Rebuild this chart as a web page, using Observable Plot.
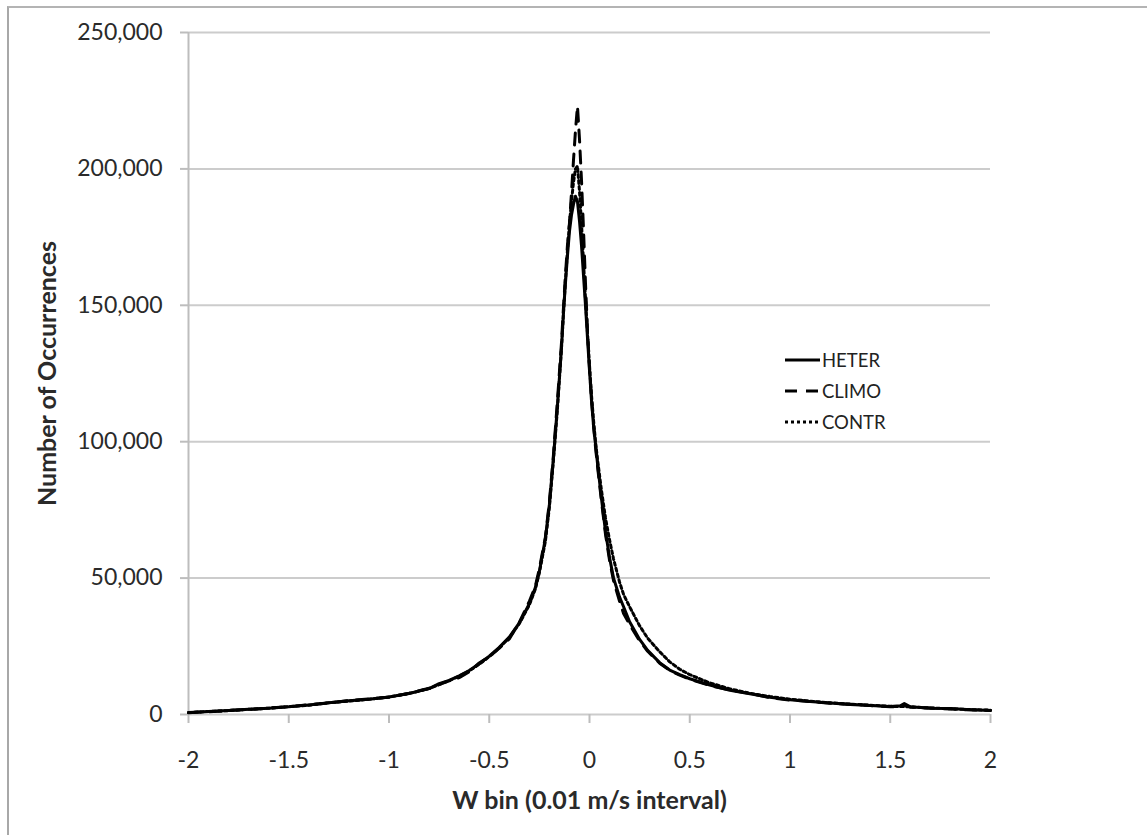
<!DOCTYPE html>
<html>
<head>
<meta charset="utf-8">
<script src="https://cdn.jsdelivr.net/npm/d3@7"></script>
<script src="https://cdn.jsdelivr.net/npm/@observablehq/plot@0.6"></script>
<style>
  html, body { margin: 0; padding: 0; background: #fff; }
  #wrap { position: relative; width: 1147px; height: 835px; overflow: hidden; background: #fff; font-family: Lato, "Open Sans", sans-serif; }
  #border { position: absolute; left: 7px; top: 6px; width: 1200px; height: 900px; border-left: 2px solid #a8a8a8; border-top: 2px solid #b4b4b4; box-sizing: border-box; pointer-events: none; }
  #chart { position: absolute; left: 0; top: 0; }
  #legend { position: absolute; left: 785px; top: 344px; font-size: 18.5px; color: #222; }
  .row { display: flex; align-items: center; height: 31px; }
  .row svg { width: 35px; height: 8px; margin-right: 2px; }
</style>
</head>
<body>
<div id="wrap">
  <div id="border"></div>
  <div id="chart"></div>
  <div id="legend"></div>
</div>
<script>
// W bin centres (m/s)
const wBins = [-2.00,-1.90,-1.80,-1.70,-1.60,-1.50,-1.40,-1.30,-1.20,-1.10,-1.00,-0.90,-0.80,-0.75,-0.70,-0.65,-0.60,-0.55,-0.50,-0.45,-0.40,-0.35,-0.30,-0.27,-0.25,-0.22,-0.20,-0.18,-0.16,-0.14,-0.13,-0.12,-0.11,-0.10,-0.09,-0.08,-0.07,-0.06,-0.05,-0.04,-0.03,-0.02,-0.01,0.00,0.01,0.02,0.03,0.04,0.06,0.08,0.10,0.12,0.15,0.17,0.20,0.25,0.29,0.35,0.40,0.45,0.50,0.60,0.70,0.80,0.90,1.00,1.10,1.20,1.30,1.40,1.50,1.55,1.57,1.60,1.70,1.80,1.90,2.00];

const heter = [600,1100,1500,1900,2300,2800,3500,4300,5000,5600,6400,7700,9500,11300,12500,14200,16100,18600,21400,24600,28400,33600,40600,46500,52500,64500,77000,94000,113000,134000,147000,158000,168000,177000,183000,187000,190000,188000,181000,172000,161000,150000,138000,126000,115000,106000,99000,92000,79000,67000,57500,50000,43000,39500,34000,27500,23500,19000,16300,14600,13100,10800,8900,7600,6300,5400,4800,4200,3700,3300,2900,3200,4000,2800,2300,2200,1700,1500];

const climo = [700,1000,1500,1800,2400,2800,3600,4200,5100,5700,6300,7800,9600,11000,12300,13500,15700,18900,21200,24300,27700,33800,41500,47000,53500,65000,78000,95000,115000,136000,149000,161000,172000,180000,191000,203000,214000,223000,211000,196000,178000,158000,141000,127000,116000,106000,98000,91000,78000,66000,56500,49000,41500,37000,33000,27000,23200,18800,16200,14400,13000,10600,9000,7700,6200,5300,4800,4100,3800,3300,2800,3000,3500,2700,2400,2000,1700,1500];

const contr = [700,1100,1400,1900,2300,2900,3400,4300,4900,5600,6400,7700,9500,11000,12400,14100,16000,18400,21200,24400,28200,33300,40200,46000,52000,63500,76000,93000,112000,134000,147000,159000,170000,180000,188000,195000,200000,201000,192000,180000,166000,152000,140000,128000,117000,108000,100000,93500,82000,72000,64000,57000,48500,44000,39500,32500,28000,23000,19300,16600,14600,11600,9400,7800,6600,5600,4900,4300,3800,3400,3000,2900,2900,2800,2400,2100,1800,1600];

const seriesNames = ["HETER", "CLIMO", "CONTR"];
const seriesDash = ["none", "12,9", "3,3"];
const xTicks = [-2,-1.5,-1,-0.5,0,0.5,1,1.5,2];
const yTicks = [0,50000,100000,150000,200000,250000];
const xTitle = "W bin (0.01 m/s interval)";
const yTitle = "Number of Occurrences";

const seriesValues = [heter, climo, contr];
const data = seriesNames.map((name, i) => wBins.map((w, j) => ({series: name, w, n: seriesValues[i][j]})));

const gridColor = "#cccccc";
const textColor = "#2a2a2a";

const chart = Plot.plot({
  width: 1147,
  height: 835,
  marginLeft: 188,
  marginRight: 157,
  marginTop: 32,
  marginBottom: 121,
  style: {fontFamily: "Lato, 'Open Sans', sans-serif", fontSize: "23px", background: "transparent", color: textColor},
  x: {domain: [-2, 2], ticks: xTicks, tickFormat: d => String(d), label: null},
  y: {domain: [0, 250000], ticks: yTicks, tickFormat: d3.format(","), label: null},
  marks: [
    Plot.ruleY(yTicks, {stroke: gridColor, strokeWidth: 2}),
    Plot.ruleX([-2], {stroke: "#bdbdbd", strokeWidth: 2}),
    Plot.axisY({ticks: yTicks, tickSize: 8, tickPadding: 18, stroke: "#bdbdbd", strokeWidth: 2, fill: textColor, label: null, tickFormat: d3.format(",")}),
    Plot.axisX({ticks: xTicks, tickSize: 9, tickPadding: 28, stroke: "#bdbdbd", strokeWidth: 2, fill: textColor, label: null, tickFormat: d => String(d)}),
    ...data.map((d, i) => Plot.line(d, {x: "w", y: "n", stroke: "#000", strokeWidth: 3, strokeDasharray: seriesDash[i], strokeLinejoin: "round"})),
    Plot.text([xTitle], {frameAnchor: "bottom", textAnchor: "middle", dy: 94, fontWeight: "bold", fontSize: 25, fill: textColor}),
    Plot.text([yTitle], {frameAnchor: "left", textAnchor: "middle", dx: -141, rotate: -90, fontWeight: "bold", fontSize: 25, fill: textColor})
  ]
});
document.getElementById("chart").appendChild(chart);

// legend
const legend = document.getElementById("legend");
seriesNames.forEach((name, i) => {
  const row = document.createElement("div");
  row.className = "row";
  const dash = seriesDash[i] === "none" ? "" : ` stroke-dasharray="${seriesDash[i]}"`;
  row.innerHTML = `<svg viewBox="0 0 35 8"><line x1="0" y1="4" x2="35" y2="4" stroke="#000" stroke-width="3"${dash}/></svg><span>${name}</span>`;
  legend.appendChild(row);
});
</script>
</body>
</html>
